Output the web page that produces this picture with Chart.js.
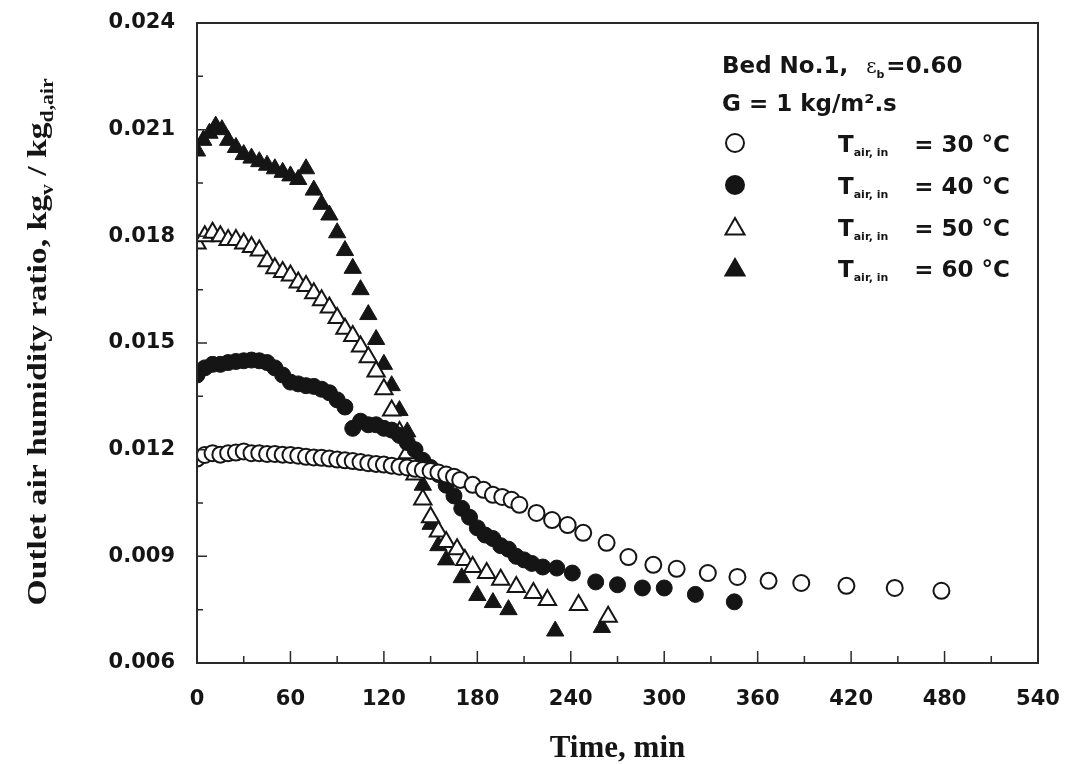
<!DOCTYPE html>
<html>
<head>
<meta charset="utf-8">
<title>Outlet air humidity ratio</title>
<script src="https://cdn.jsdelivr.net/npm/chart.js@4.4.1/dist/chart.umd.min.js"></script>
<style>
  html, body { margin: 0; padding: 0; background: #fff; }
  #wrap { width: 1066px; height: 764px; }
</style>
</head>
<body>
<div id="wrap"><canvas id="humidityChart" width="1066" height="764"></canvas></div>
<script>
// axis ticks
const timeTicks = [0, 60, 120, 180, 240, 300, 360, 420, 480, 540];
const ratioTicks = [0.006, 0.009, 0.012, 0.015, 0.018, 0.021, 0.024];

// T_air,in = 30 C (open circles)
const t30 = [0, 5, 10, 15, 20, 25, 30, 35, 40, 45, 50, 55, 60, 65, 70, 75, 80, 85, 90, 95,
  100, 105, 110, 115, 120, 125, 130, 135, 140, 145, 150, 155, 160, 165,
  169, 177, 184, 190, 196, 202, 207, 218, 228, 238, 248, 263, 277, 293, 308, 328, 347, 367, 388, 417, 448, 478];
const w30 = [0.01175, 0.01185, 0.0119, 0.01186, 0.0119, 0.01192, 0.01195, 0.0119, 0.0119, 0.01188,
  0.01188, 0.01186, 0.01185, 0.01183, 0.0118, 0.01178, 0.01177, 0.01175, 0.01172, 0.0117,
  0.01168, 0.01165, 0.01162, 0.0116, 0.01158, 0.01155, 0.01152, 0.0115, 0.01146, 0.01143,
  0.0114, 0.01136, 0.0113, 0.01124,
  0.01115, 0.01101, 0.01087, 0.01073, 0.01067, 0.01059, 0.01045, 0.01022, 0.01002, 0.00988,
  0.00966, 0.00938, 0.00898, 0.00876, 0.00865, 0.00853, 0.00842, 0.00831, 0.00825, 0.00817, 0.00811, 0.00803];

// T_air,in = 40 C (filled circles)
const t40 = [0, 5, 10, 15, 20, 25, 30, 35, 40, 45, 50, 55, 60, 65, 70, 75, 80, 85, 90, 95,
  100, 105, 110, 115, 120, 125, 130, 135, 140, 145, 150, 155, 160, 165, 170, 175, 180, 185, 190, 195,
  200, 205, 210, 215, 222, 231, 241, 256, 270, 286, 300, 320, 345];
const w40 = [0.0141, 0.0143, 0.0144, 0.0144, 0.01445, 0.01448, 0.0145, 0.01452, 0.0145, 0.01445,
  0.0143, 0.0141, 0.0139, 0.01385, 0.0138, 0.01378, 0.0137, 0.0136, 0.0134, 0.0132,
  0.0126, 0.0128, 0.0127, 0.0127, 0.0126, 0.01255, 0.0124, 0.0122, 0.012, 0.0117,
  0.0115, 0.0113, 0.011, 0.0107, 0.01035, 0.0101, 0.0098, 0.0096, 0.0095, 0.0093,
  0.0092, 0.009, 0.0089, 0.0088, 0.0087, 0.00867, 0.00853, 0.00828, 0.0082, 0.00811, 0.00811, 0.00793, 0.00772];

// T_air,in = 50 C (open triangles)
const t50 = [0, 5, 10, 15, 20, 25, 30, 35, 40, 45, 50, 55, 60, 65, 70, 75, 80, 85, 90, 95,
  100, 105, 110, 115, 120, 125, 130, 135, 140, 145, 150, 155, 160,
  167, 172, 177, 186, 195, 205, 216, 225, 245, 264];
const w50 = [0.0178, 0.018, 0.0181, 0.018, 0.0179, 0.0179, 0.0178, 0.0177, 0.0176, 0.0173,
  0.0171, 0.017, 0.0169, 0.0167, 0.0166, 0.0164, 0.0162, 0.016, 0.0157, 0.0154,
  0.0152, 0.0149, 0.0146, 0.0142, 0.0137, 0.0131, 0.0125, 0.0119, 0.0113, 0.0106,
  0.0101, 0.0097, 0.0094,
  0.0092, 0.0089, 0.0087, 0.00853, 0.00834, 0.00814, 0.00797, 0.00777, 0.00763, 0.0073];

// T_air,in = 60 C (filled triangles)
const t60 = [0, 4, 8, 12, 16, 20, 25, 30, 35, 40, 45, 50, 55, 60, 65, 70, 75, 80, 85, 90,
  95, 100, 105, 110, 115, 120, 125, 130, 135, 140, 145, 150, 155, 160,
  170, 180, 190, 200, 230, 260];
const w60 = [0.0204, 0.0207, 0.0209, 0.0211, 0.021, 0.0207, 0.0205, 0.0203, 0.0202, 0.0201,
  0.02, 0.0199, 0.0198, 0.0197, 0.0196, 0.0199, 0.0193, 0.0189, 0.0186, 0.0181,
  0.0176, 0.0171, 0.0165, 0.0158, 0.0151, 0.0144, 0.0138, 0.0131, 0.0125, 0.0119,
  0.011, 0.0099, 0.0093, 0.0089,
  0.0084, 0.0079, 0.0077, 0.0075, 0.0069, 0.007];

const legendTemps = ['30', '40', '50', '60'];

const toPoints = (ts, ws) => ts.map((t, i) => ({ x: t, y: ws[i] }));

const INK = '#151515';

function markerPath(ctx, style, cx, cy, r) {
  ctx.beginPath();
  if (style === 'circle') {
    ctx.arc(cx, cy, r, 0, Math.PI * 2);
  } else {
    let rad = 0;
    ctx.moveTo(cx + Math.sin(rad) * r, cy - Math.cos(rad) * r);
    rad += Math.PI * 2 / 3;
    ctx.lineTo(cx + Math.sin(rad) * r, cy - Math.cos(rad) * r);
    rad += Math.PI * 2 / 3;
    ctx.lineTo(cx + Math.sin(rad) * r, cy - Math.cos(rad) * r);
  }
  ctx.closePath();
}

// draws a list of text pieces one after another, returns end x
function drawRuns(ctx, runs, x, y, measureOnly) {
  let cx = x;
  runs.forEach(r => {
    ctx.font = r.font;
    if (!measureOnly) ctx.fillText(r.text, cx, y + (r.dy || 0));
    cx += ctx.measureText(r.text).width + (r.gap || 0);
  });
  return cx;
}

const frameTicks = {
  id: 'frameTicks',
  afterDatasetsDraw(chart) {
    const { ctx, chartArea: a, scales: { x, y } } = chart;
    ctx.save();
    ctx.strokeStyle = '#2a2a2a';
    ctx.lineWidth = 2;
    ctx.strokeRect(a.left, a.top, a.right - a.left, a.bottom - a.top);
    ctx.lineWidth = 1.5;
    ctx.beginPath();
    for (let t = 0; t <= 540; t += 30) {
      const px = x.getPixelForValue(t);
      const len = t % 60 === 0 ? 12 : 7;
      ctx.moveTo(px, a.bottom);
      ctx.lineTo(px, a.bottom - len);
    }
    for (let k = 0; k <= 12; k++) {
      const py = y.getPixelForValue(0.006 + k * 0.0015);
      const len = k % 2 === 0 ? 10 : 6;
      ctx.moveTo(a.left, py);
      ctx.lineTo(a.left + len, py);
    }
    ctx.stroke();
    ctx.restore();
  }
};

const notes = {
  id: 'notes',
  afterDraw(chart) {
    const ctx = chart.ctx;
    const big = 'bold 23px "DejaVu Sans"';
    const small = 'bold 11px "DejaVu Sans"';
    ctx.save();
    ctx.fillStyle = INK;
    ctx.textBaseline = 'alphabetic';

    // header lines
    drawRuns(ctx, [
      { text: 'Bed No.1,', font: big, gap: 18 },
      { text: 'ε', font: '20px "DejaVu Serif"' },
      { text: 'b', font: small, dy: 5, gap: 2 },
      { text: '=0.60', font: big }
    ], 722, 73);
    drawRuns(ctx, [{ text: 'G = 1 kg/m².s', font: big }], 722, 111);

    // series entries
    const styles = [['circle', false], ['circle', true], ['triangle', false], ['triangle', true]];
    const rows = [143, 185, 227, 268];
    styles.forEach((s, i) => {
      const cy = rows[i];
      ctx.lineWidth = 2;
      ctx.strokeStyle = INK;
      ctx.fillStyle = s[1] ? INK : '#fff';
      if (s[0] === 'circle') markerPath(ctx, 'circle', 735, cy, 9);
      else markerPath(ctx, 'triangle', 735, cy + 2, 11);
      ctx.fill();
      ctx.stroke();
      ctx.fillStyle = INK;
      drawRuns(ctx, [
        { text: 'T', font: big },
        { text: 'air, in', font: small, dy: 4, gap: 26 },
        { text: '= ' + legendTemps[i] + ' °C', font: big }
      ], 838, cy + 9);
    });

    // y axis title, rotated
    const yf = 'bold 28px "Liberation Serif"';
    const ys = 'bold 18px "Liberation Serif"';
    const runs = [
      { text: 'Outlet air humidity ratio, kg', font: yf },
      { text: 'v', font: ys, dy: 7 },
      { text: ' / kg', font: yf },
      { text: 'd,air', font: ys, dy: 7 }
    ];
    const w = drawRuns(ctx, runs, 0, 0, true);
    const target = 527;
    ctx.translate(46, 342);
    ctx.rotate(-Math.PI / 2);
    ctx.scale(target / w, 1);
    drawRuns(ctx, runs, -w / 2, 0);
    ctx.restore();
  }
};

const ctxH = document.getElementById('humidityChart').getContext('2d');
const humidityChart = new Chart(ctxH, {
  type: 'scatter',
  data: {
    datasets: [
      {
        label: 'Tair,in = 30°C',
        data: toPoints(t30, w30),
        pointStyle: 'circle',
        pointRadius: 8,
        borderWidth: 2,
        borderColor: INK,
        backgroundColor: '#fff'
      },
      {
        label: 'Tair,in = 40°C',
        data: toPoints(t40, w40),
        pointStyle: 'circle',
        pointRadius: 8,
        borderWidth: 1,
        borderColor: INK,
        backgroundColor: INK
      },
      {
        label: 'Tair,in = 50°C',
        data: toPoints(t50, w50),
        pointStyle: 'triangle',
        pointRadius: 10,
        borderWidth: 2,
        borderColor: INK,
        backgroundColor: '#fff'
      },
      {
        label: 'Tair,in = 60°C',
        data: toPoints(t60, w60),
        pointStyle: 'triangle',
        pointRadius: 10,
        borderWidth: 1,
        borderColor: INK,
        backgroundColor: INK
      }
    ]
  },
  options: {
    responsive: false,
    animation: false,
    layout: { padding: { top: 23, right: 28, left: 0, bottom: 0 } },
    plugins: {
      legend: { display: false },
      tooltip: { enabled: false }
    },
    scales: {
      x: {
        type: 'linear',
        min: 0,
        max: 540,
        afterBuildTicks: scale => { scale.ticks = timeTicks.map(v => ({ value: v })); },
        afterFit: scale => {
          scale.height = 101;
          scale.paddingLeft = 0;
          scale.paddingRight = 0;
        },
        grid: { display: false, drawTicks: false },
        border: { display: false },
        ticks: {
          padding: 24,
          color: INK,
          font: { family: 'DejaVu Sans', size: 21, weight: 'bold' },
          maxRotation: 0
        },
        title: {
          display: true,
          text: 'Time, min',
          color: INK,
          padding: { top: 0, bottom: 0 },
          font: { family: 'Liberation Serif', size: 31, weight: 'bold', lineHeight: 1 }
        }
      },
      y: {
        type: 'linear',
        min: 0.006,
        max: 0.024,
        afterBuildTicks: scale => { scale.ticks = ratioTicks.map(v => ({ value: v })); },
        afterFit: scale => {
          scale.width = 197;
          scale.paddingTop = 0;
          scale.paddingBottom = 0;
        },
        grid: { display: false, drawTicks: false },
        border: { display: false },
        ticks: {
          padding: 22,
          color: INK,
          font: { family: 'DejaVu Sans', size: 21, weight: 'bold' },
          callback: v => v.toFixed(3)
        }
      }
    }
  },
  plugins: [frameTicks, notes]
});
</script>
</body>
</html>
